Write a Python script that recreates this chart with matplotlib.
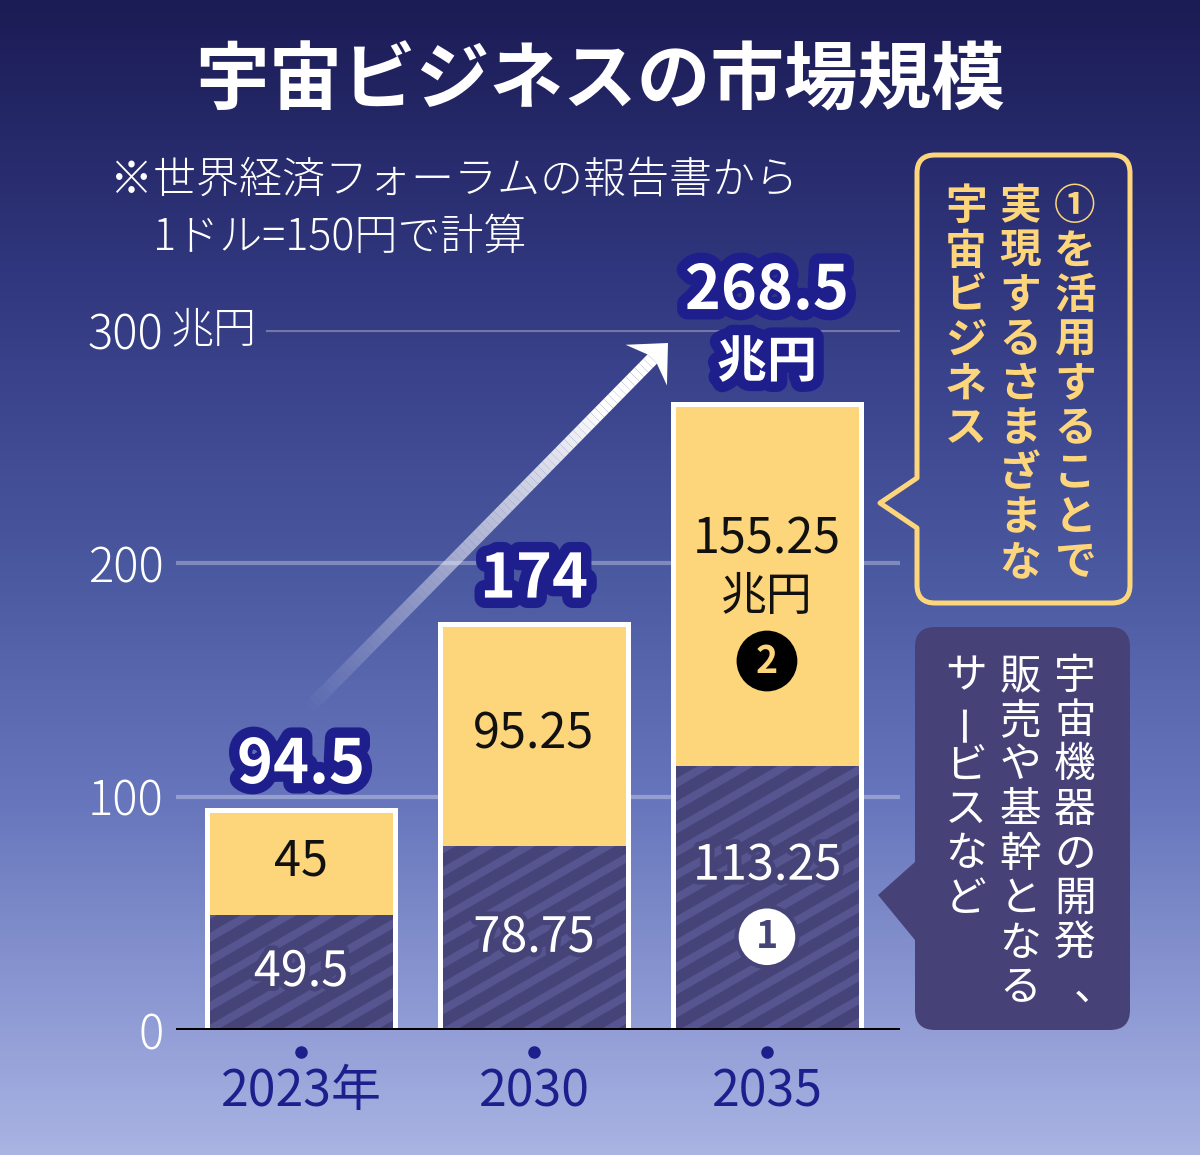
import numpy as np
import matplotlib.pyplot as plt
import matplotlib.patheffects as pe
from matplotlib.colors import LinearSegmentedColormap
from matplotlib.path import Path
from matplotlib.patches import PathPatch, Polygon
from matplotlib.collections import LineCollection

plt.rcParams['font.family'] = ['Noto Sans CJK JP', 'DejaVu Sans']

# data (兆円, 1ドル=150円)
years = ['2023年', '2030', '2035']
core = [49.5, 78.75, 113.25]       # ① 宇宙機器・基幹サービス
applied = [45, 95.25, 155.25]      # ② ①を活用するビジネス
totals = [94.5, 174, 268.5]
yticks = [0, 100, 200, 300]
ytick_labels = ['0', '100', '200', '300']

title = '宇宙ビジネスの市場規模'
note = ['※世界経済フォーラムの報告書から', '1ドル=150円で計算']
note_applied = ['①を活用することで', '実現するさまざまな', '宇宙ビジネス']
note_core = ['宇宙機器の開発、', '販売や基幹となる', 'サービスなど']

NAVY = '#1e1f8c'
YELLOW = '#fdd57b'
DARK = '#454378'
STRIPE = '#56558f'
BUBBLE = '#464277'

W, H = 1200, 1155
fig = plt.figure(figsize=(12, 11.55), dpi=100)

# background gradient, also used as a pixel canvas for the decorations
bg = fig.add_axes([0, 0, 1, 1], zorder=0)
cmap = LinearSegmentedColormap.from_list(
    'bg', [(0, '#1b1b55'), (0.26, '#333a82'), (0.49, '#4a58a0'),
           (0.7, '#6877bd'), (0.87, '#8d99d3'), (1, '#a9b4e3')])
bg.imshow(np.linspace(0, 1, 256)[:, None], aspect='auto', cmap=cmap,
          extent=[0, W, H, 0])
bg.set_xlim(0, W)
bg.set_ylim(H, 0)
bg.axis('off')

bg.text(600, 82, title, ha='center', va='center', fontsize=53,
        weight='bold', color='white')
bg.text(110, 180, note[0], ha='left', va='center', fontsize=31,
        color='white', weight='light')
bg.text(153, 237, note[1], ha='left', va='center', fontsize=31,
        color='white', weight='light')


def bubble(x0, y0, x1, y1, r, tip, b0, b1, **kw):
    # rounded box with a pointer on its left side, y grows downward
    M, L, C, Z = Path.MOVETO, Path.LINETO, Path.CURVE3, Path.CLOSEPOLY
    verts = [(x0 + r, y0), (x1 - r, y0), (x1, y0), (x1, y0 + r),
             (x1, y1 - r), (x1, y1), (x1 - r, y1),
             (x0 + r, y1), (x0, y1), (x0, y1 - r),
             (x0, b1), tip, (x0, b0),
             (x0, y0 + r), (x0, y0), (x0 + r, y0), (x0 + r, y0)]
    codes = [M, L, C, C, L, C, C, L, C, C, L, L, L, L, C, C, Z]
    bg.add_patch(PathPatch(Path(verts, codes), joinstyle='round', **kw))


def vtext(x, y, s, pitch, **kw):
    for i, ch in enumerate(s):
        rot, dx = 0, 0
        if ch == 'ー':
            rot = 90
        if ch == '、':
            dx = pitch * 0.45
        bg.text(x + dx, y + i * pitch, ch, ha='center', va='center',
                rotation=rot, **kw)


bubble(917, 155, 1130, 603, 18, (880, 503), 478, 528,
       fc='none', ec=YELLOW, lw=3.6)
bubble(915, 627, 1130, 1030, 20, (878, 895), 862, 940,
       fc=BUBBLE, ec='none')

for cx, line in zip([1075, 1020, 966], note_applied):
    vtext(cx, 207, line, 44.5, fontsize=30, color=YELLOW, weight='bold')
for cx, line in zip([1075, 1020, 966], note_core):
    vtext(cx, 677, line, 44.5, fontsize=30, color='white')

# growth arrow fading out toward its tail
tail = np.array([305.0, 712.0])
tip = np.array([668.0, 343.0])
u = (tip - tail) / np.linalg.norm(tip - tail)
nrm = np.array([-u[1], u[0]])
shaft_end = tip - u * 16
n = 80
pts = tail + np.outer(np.linspace(0, 1, n + 1), shaft_end - tail)
segs = np.stack([pts[:-1], pts[1:]], axis=1)
alpha = np.clip(np.linspace(0, 1, n) / 0.85, 0, 1)
bg.add_collection(LineCollection(segs, colors=[(1, 1, 1, a) for a in alpha],
                                 linewidths=9.5, capstyle='butt'))
head = [tip, tip - u * 31 + nrm * 29, tip - u * 20, tip - u * 31 - nrm * 29]
bg.add_patch(Polygon(head, closed=True, fc='white', ec='none'))

# chart axes
ax = fig.add_axes([176 / W, 1 - 1030 / H, 724 / W, 700 / H], zorder=2)
ax.patch.set_alpha(0)
x = np.arange(len(years))
bw = 0.807
xlim = (-0.5365, 2.571)

ax.hlines(yticks[1:3], *xlim, color='white', alpha=0.3, lw=3, zorder=1)
ax.hlines(yticks[3], -0.15, xlim[1], color='white', alpha=0.3, lw=3, zorder=1)

bot = ax.bar(x, core, width=bw, color=DARK, lw=0, zorder=3)
ax.bar(x, applied, bottom=core, width=bw, color=YELLOW, lw=0, zorder=3)

# diagonal stripes on the lower segments
k = np.tan(np.radians(30))
cs = np.arange(650, 1600, 23.0)
stripe_segs = [[(150, c), (950, c - 800 * k)] for c in cs]
for p in bot.patches:
    lc = LineCollection(stripe_segs, colors=STRIPE, linewidths=5.8,
                        transform=bg.transData, zorder=3.5)
    ax.add_collection(lc, autolim=False)
    lc.set_clip_path(p)

ax.bar(x, totals, width=bw, fill=False, ec='white', lw=3.6, zorder=5)
ax.axhline(0, color='black', lw=3.6, zorder=6)

halo = [pe.withStroke(linewidth=7, foreground=DARK)]
big = [pe.withStroke(linewidth=15, foreground=NAVY)]

for i in range(2):
    ax.text(x[i], core[i] / 2, f'{core[i]:g}', ha='center', va='center',
            fontsize=35, color='white', path_effects=halo, zorder=7)
    ax.text(x[i], core[i] + applied[i] / 2, f'{applied[i]:g}', ha='center',
            va='center', fontsize=35, color='#111111', zorder=7)
    ax.annotate(f'{totals[i]:g}', (x[i], totals[i]), xytext=(0, 19),
                textcoords='offset points', ha='center', va='baseline',
                fontsize=44, weight='bold', color='white',
                path_effects=big, zorder=8)

# last bar: longer labels with units and circled numbers
i = 2
mid_a = core[i] + applied[i] / 2
mid_c = core[i] / 2
ax.annotate(f'{applied[i]:g}', (x[i], mid_a), xytext=(0, 32),
            textcoords='offset points', ha='center', va='center',
            fontsize=35, color='#111111', zorder=7)
ax.annotate('兆円', (x[i], mid_a), xytext=(0, -9),
            textcoords='offset points', ha='center', va='center',
            fontsize=33, color='#111111', zorder=7)
ax.annotate('2', (x[i], mid_a), xytext=(0, -55),
            textcoords='offset points', ha='center', va='center',
            fontsize=27, weight='bold', color=YELLOW, zorder=7,
            bbox=dict(boxstyle='circle,pad=0.29', fc='black', ec='none'))
ax.annotate(f'{core[i]:g}', (x[i], mid_c), xytext=(0, 23),
            textcoords='offset points', ha='center', va='center',
            fontsize=35, color='white', path_effects=halo, zorder=7)
ax.annotate('1', (x[i], mid_c), xytext=(0, -28),
            textcoords='offset points', ha='center', va='center',
            fontsize=27, weight='bold', color=DARK, zorder=7,
            bbox=dict(boxstyle='circle,pad=0.29', fc='white', ec=DARK, lw=3))
ax.annotate('兆円', (x[i], totals[i]), xytext=(0, 19),
            textcoords='offset points', ha='center', va='baseline',
            fontsize=36, weight='bold', color='white',
            path_effects=big, zorder=8)
ax.annotate(f'{totals[i]:g}', (x[i], totals[i]), xytext=(0, 68),
            textcoords='offset points', ha='center', va='baseline',
            fontsize=44, weight='bold', color='white',
            path_effects=big, zorder=8)

# axes styling
ax.set_xlim(*xlim)
ax.set_ylim(0, 300)
ax.set_xticks(x, years)
ax.set_yticks(yticks, ytick_labels)
ax.tick_params(axis='x', length=0, pad=26, labelsize=36, labelcolor=NAVY)
ax.tick_params(axis='y', length=0, pad=9, labelsize=34, labelcolor='white')
for lab in ax.get_yticklabels():
    lab.set_fontweight('light')
for s in ax.spines.values():
    s.set_visible(False)
ax.annotate('兆円', (0, yticks[3]), xycoords=('axes fraction', 'data'),
            xytext=(-4, 0), textcoords='offset points', ha='left',
            va='center', fontsize=31, color='white', weight='light')
ax.plot(x, np.full(len(x), -9.5), 'o', color=NAVY, ms=8, clip_on=False)

fig.savefig('out.png', dpi=100)
